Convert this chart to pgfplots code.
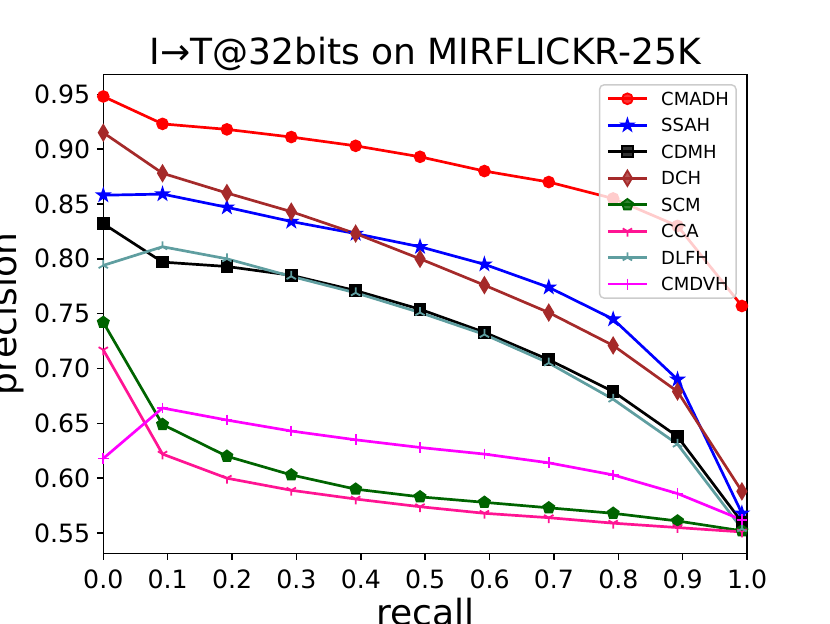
\documentclass[border=0pt]{standalone}
\usepackage{fontspec}
\setmainfont{DejaVu Sans}
\usepackage{pgfplots}
\pgfplotsset{compat=1.18}
\usetikzlibrary{plotmarks}
\definecolor{cbrown}{HTML}{A52A2A}
\definecolor{cgreen}{HTML}{006400}
\definecolor{cpink}{HTML}{FF1493}
\definecolor{cteal}{HTML}{5F9EA0}
\definecolor{cmag}{HTML}{FF00FF}
\pgfdeclareplotmark{fstar}{%
 \pgfpathmoveto{\pgfpointpolar{90}{\pgfplotmarksize}}%
 \pgfpathlineto{\pgfpointpolar{126}{0.382\pgfplotmarksize}}%
 \pgfpathlineto{\pgfpointpolar{162}{\pgfplotmarksize}}%
 \pgfpathlineto{\pgfpointpolar{198}{0.382\pgfplotmarksize}}%
 \pgfpathlineto{\pgfpointpolar{234}{\pgfplotmarksize}}%
 \pgfpathlineto{\pgfpointpolar{270}{0.382\pgfplotmarksize}}%
 \pgfpathlineto{\pgfpointpolar{306}{\pgfplotmarksize}}%
 \pgfpathlineto{\pgfpointpolar{342}{0.382\pgfplotmarksize}}%
 \pgfpathlineto{\pgfpointpolar{18}{\pgfplotmarksize}}%
 \pgfpathlineto{\pgfpointpolar{54}{0.382\pgfplotmarksize}}%
 \pgfpathclose
 \pgfusepathqfillstroke}
\begin{document}
\begin{tikzpicture}
\begin{axis}[
  at={(57.35pt,38.7pt)}, anchor=south west,
  scale only axis, width=357.4pt, height=265.7pt,
  xmin=0, xmax=1, ymin=0.5315, ymax=0.9678,
  xtick={0,0.1,0.2,0.3,0.4,0.5,0.6,0.7,0.8,0.9,1.0},
  ytick={0.55,0.60,0.65,0.70,0.75,0.80,0.85,0.90,0.95},
  /pgf/number format/assume math mode=true,
  tick label style={font=\fontsize{14}{16}\selectfont},
  xticklabel style={inner ysep=5.2pt,/pgf/number format/.cd,fixed,fixed zerofill,precision=1},
  yticklabel style={inner xsep=3.6pt,/pgf/number format/.cd,fixed,fixed zerofill,precision=2},
  tick align=outside, major tick length=3.5pt,
  xtick pos=bottom, ytick pos=left,
  every tick/.style={black, line width=0.8pt},
  axis line style={line width=0.8pt},
  clip=false,
  legend style={font=\fontsize{10}{12}\selectfont, at={(1,1)}, anchor=north east,
    xshift=-5.7pt, yshift=-5.2pt, draw=black!20, line width=0.8pt, rounded corners=2.5pt,
    fill=white, fill opacity=0.8, text opacity=1, draw opacity=1,
    inner xsep=3.9pt, inner ysep=0.4pt,
    nodes={inner xsep=0pt, inner ysep=0pt, text height=11pt, text depth=3.7pt},
    /tikz/every odd column/.append style={column sep=7.2pt}},
  legend cell align=left,
  legend image code/.code={\draw[mark repeat=2,mark phase=2] plot coordinates {(0pt,0pt) (10.8pt,0pt) (21.6pt,0pt)};},
  every axis plot/.append style={line width=1.5pt},
]
\addplot[color=red, mark=*, mark size=3pt, mark options={solid,fill=red,draw=red,line width=1pt}] coordinates {
(0,0.948) (0.092,0.923) (0.192,0.918) (0.292,0.911) (0.392,0.903) (0.492,0.893) (0.592,0.880) (0.692,0.870) (0.792,0.855) (0.892,0.830) (0.992,0.757)};
\addlegendentry{CMADH}
\addplot[color=blue, mark=fstar, mark size=3.3pt, mark options={solid,fill=blue,draw=blue,line width=1pt}] coordinates {
(0,0.858) (0.092,0.859) (0.192,0.847) (0.292,0.834) (0.392,0.823) (0.492,0.811) (0.592,0.795) (0.692,0.774) (0.792,0.745) (0.892,0.690) (0.992,0.568)};
\addlegendentry{SSAH}
\addplot[color=black, mark=square*, mark size=3pt, mark options={solid,fill=black,draw=black,line width=1pt}] coordinates {
(0,0.832) (0.092,0.797) (0.192,0.793) (0.292,0.785) (0.392,0.771) (0.492,0.754) (0.592,0.733) (0.692,0.708) (0.792,0.679) (0.892,0.638) (0.992,0.560)};
\addlegendentry{CDMH}
\addplot[color=cbrown, mark=diamond*, mark size=4.25pt, mark options={solid,fill=cbrown,draw=cbrown,line width=1pt,xscale=0.8}] coordinates {
(0,0.915) (0.092,0.878) (0.192,0.860) (0.292,0.843) (0.392,0.823) (0.492,0.800) (0.592,0.776) (0.692,0.751) (0.792,0.721) (0.892,0.679) (0.992,0.588)};
\addlegendentry{DCH}
\addplot[color=cgreen, mark=pentagon*, mark size=3.2pt, mark options={solid,fill=cgreen,draw=cgreen,line width=1pt}] coordinates {
(0,0.742) (0.092,0.649) (0.192,0.620) (0.292,0.603) (0.392,0.590) (0.492,0.583) (0.592,0.578) (0.692,0.573) (0.792,0.568) (0.892,0.561) (0.992,0.552)};
\addlegendentry{SCM}
\addplot[color=cpink, mark=Mercedes star flipped, mark size=3pt, mark options={solid,draw=cpink,line width=1pt}] coordinates {
(0,0.717) (0.092,0.622) (0.192,0.600) (0.292,0.589) (0.392,0.581) (0.492,0.574) (0.592,0.568) (0.692,0.564) (0.792,0.559) (0.892,0.555) (0.992,0.551)};
\addlegendentry{CCA}
\addplot[color=cteal, mark=Mercedes star, mark size=3pt, mark options={solid,draw=cteal,line width=1pt}] coordinates {
(0,0.794) (0.092,0.811) (0.192,0.800) (0.292,0.784) (0.392,0.769) (0.492,0.751) (0.592,0.731) (0.692,0.705) (0.792,0.672) (0.892,0.631) (0.992,0.554)};
\addlegendentry{DLFH}
\addplot[color=cmag, mark=+, mark size=3pt, mark options={solid,draw=cmag,line width=1pt}] coordinates {
(0,0.618) (0.092,0.664) (0.192,0.653) (0.292,0.643) (0.392,0.635) (0.492,0.628) (0.592,0.622) (0.692,0.614) (0.792,0.603) (0.892,0.586) (0.992,0.562)};
\addlegendentry{CMDVH}
\end{axis}
\node[anchor=base, font=\fontsize{20}{24}\selectfont, inner sep=0pt] at (236.0pt,310.3pt) {I→T@32bits on MIRFLICKR-25K};
\node[anchor=base, font=\fontsize{20}{24}\selectfont, inner sep=0pt] at (236.0pt,-1.5pt) {recall};
\node[anchor=base, rotate=90, font=\fontsize{20}{24}\selectfont, inner sep=0pt] at (9pt,171.55pt) {precision};
\pgfresetboundingbox
\path[use as bounding box] (0,0) rectangle (460.8pt,345.9pt);
\end{tikzpicture}
\end{document}
